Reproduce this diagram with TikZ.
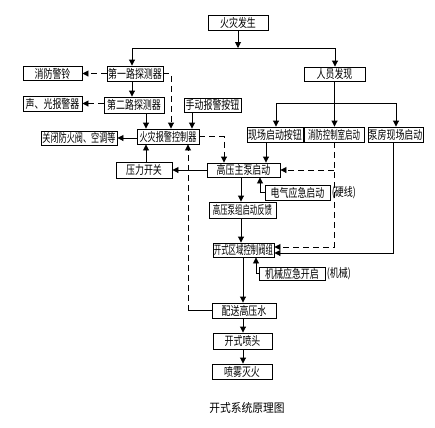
\documentclass[tikz,border=0pt]{standalone}
\usepackage{fontspec}
\newfontfamily\cjk[FakeStretch=0.75]{Noto Sans CJK SC}
\newfontfamily\cjkm[FakeStretch=0.68]{Noto Sans CJK SC}
\newfontfamily\cjkn[FakeStretch=0.62]{Noto Sans CJK SC}
\newfontfamily\cjkc[FakeStretch=0.9]{Noto Sans CJK SC}
\usetikzlibrary{arrows.meta}
\begin{document}
\begin{tikzpicture}[x=1bp,y=-1bp,line width=0.9bp]
\tikzset{
 box/.style={draw, inner sep=0pt, font=\cjk\fontsize{12}{12}\selectfont},
 mbox/.style={box, font=\cjkm\fontsize{12}{12}\selectfont},
 nbox/.style={box, font=\cjkn\fontsize{12}{12}\selectfont},
 arr/.style={-{Triangle[length=6bp,width=6bp]}},
 dsh/.style={dash pattern=on 6bp off 4bp},
 lbl/.style={inner sep=1bp, font=\cjk\fontsize{12}{12}\selectfont}
}
\useasboundingbox (0,0) rectangle (435,427);
% nodes
\node[box, minimum width=60bp, minimum height=15bp] (fire) at (238,22.5) {火灾发生};
\node[box, minimum width=56bp, minimum height=15bp] (det1) at (135,73.5) {第一路探测器};
\node[box, minimum width=59bp, minimum height=14bp] (bell) at (52.5,73.5) {消防警铃};
\node[box, minimum width=60bp, minimum height=16bp] (det2) at (134,105) {第二路探测器};
\node[box, minimum width=59bp, minimum height=15bp] (sound) at (52.5,103.5) {声、光报警器};
\node[box, minimum width=57bp, minimum height=14bp] (manual) at (212.5,105) {手动报警按钮};
\node[box, minimum width=61bp, minimum height=14bp] (person) at (334.5,74) {人员发现};
\node[box, minimum width=56bp, minimum height=15bp] (site) at (275,134.5) {现场启动按钮};
\node[nbox, minimum width=60bp, minimum height=15bp] (ctrl) at (334,134.5) {消防控制室启动};
\node[box, minimum width=55bp, minimum height=15bp] (pump) at (395.5,134.5) {泵房现场启动};
\node[mbox, minimum width=62bp, minimum height=15bp] (alarm) at (168,136.5) {火灾报警控制器};
\node[mbox, minimum width=76bp, minimum height=14bp] (close) at (79,138) {关闭防火阀、空调等};
\node[box, minimum width=56bp, minimum height=16bp] (press) at (144,170) {压力开关};
\node[box, minimum width=73bp, minimum height=14bp] (main) at (243.5,170) {高压主泵启动};
\node[box, minimum width=65bp, minimum height=15bp] (elec) at (297.5,192.5) {电气应急启动};
\node[nbox, minimum width=67bp, minimum height=16bp] (feedback) at (242.5,210) {高压泵组启动反馈};
\node[nbox, minimum width=61bp, minimum height=14bp] (valve) at (243.5,250) {开式区域控制阀组};
\node[box, minimum width=66bp, minimum height=13bp] (mech) at (292,273.5) {机械应急开启};
\node[box, minimum width=64bp, minimum height=15bp] (supply) at (244,310.5) {配送高压水};
\node[box, minimum width=59bp, minimum height=16bp] (nozzle) at (242.5,341) {开式喷头};
\node[box, minimum width=60bp, minimum height=15bp] (spray) at (242,371.5) {喷雾灭火};
\node[lbl, anchor=west] (hard) at (elec.east) {(硬线)};
\node[lbl, anchor=west] (mechl) at (mech.east) {(机械)};
\node[inner sep=1bp, font=\cjkc\fontsize{12}{12}\selectfont] (caption) at (247,408) {开式系统原理图};
% helper coordinates
\coordinate (busL) at (132,48);
\coordinate (busR) at (335,48);
\coordinate (pL) at (276,103);
\coordinate (pR) at (396,103);
\coordinate (x146) at (146,0);
\coordinate (x171) at (171,73.5);
\coordinate (x192) at (192,0);
\coordinate (x188) at (188,310.5);
\coordinate (x224) at (224,136.5);
\coordinate (x266) at (266,0);
\coordinate (x241) at (241,0);
\coordinate (c333a) at (334,170);
\coordinate (c333b) at (334,247);
\coordinate (c393) at (393,253);
\coordinate (x260) at (260,192.5);
\coordinate (x256) at (256,273.5);
\coordinate (x243) at (243,0);
% connectors
\draw[arr] (fire.south) -- (fire.south |- busL);
\draw (busL) -- (busR);
\draw[arr] (busL) -- (busL |- det1.north);
\draw[arr] (busR) -- (busR |- person.north);
\draw[arr] (busL |- det1.south) -- (busL |- det2.north);
\draw[arr,dsh] (det1.west) -- (bell.east);
\draw[arr,dsh] (det2.west |- sound.east) -- (sound.east);
\draw[arr,dsh] (det1.east) -- (x171) -- (x171 |- alarm.north);
\draw[arr] (x146 |- det2.south) -- (x146 |- alarm.north);
\draw[arr] (x192 |- manual.south) -- (x192 |- alarm.north);
\draw[arr] (alarm.west |- close.east) -- (close.east);
\draw[arr] (x146 |- press.north) -- (x146 |- alarm.south);
\draw (supply.west) -- (x188);
\draw[arr,dsh] (x188) -- (x188 |- alarm.south);
\draw[arr,dsh] (alarm.east) -- (x224) -- (x224 |- main.north);
\draw[arr] (main.west) -- (press.east);
\draw[arr] (x266 |- site.south) -- (x266 |- main.north);
\draw (person.south) -- (person.south |- pL);
\draw (pL) -- (pR);
\draw[arr] (pL) -- (pL |- site.north);
\draw[arr] (person.south |- pL) -- (person.south |- ctrl.north);
\draw[arr] (pR) -- (pR |- pump.north);
\draw[arr,dsh] (c333a) -- (main.east);
\draw[arr,dsh] (ctrl.south) -- (c333b) -- (c333b -| valve.east);
\draw[arr] (c393 |- pump.south) -- (c393) -- (c393 -| valve.east);
\draw[arr] (elec.west) -- (x260) -- (x260 |- main.south);
\draw[arr] (x241 |- main.south) -- (x241 |- feedback.north);
\draw[arr] (x241 |- feedback.south) -- (x241 |- valve.north);
\draw[arr] (mech.west) -- (x256) -- (x256 |- valve.south);
\draw[arr] (x243 |- valve.south) -- (x243 |- supply.north);
\draw[arr] (x243 |- supply.south) -- (x243 |- nozzle.north);
\draw[arr] (x243 |- nozzle.south) -- (x243 |- spray.north);
\end{tikzpicture}
\end{document}
